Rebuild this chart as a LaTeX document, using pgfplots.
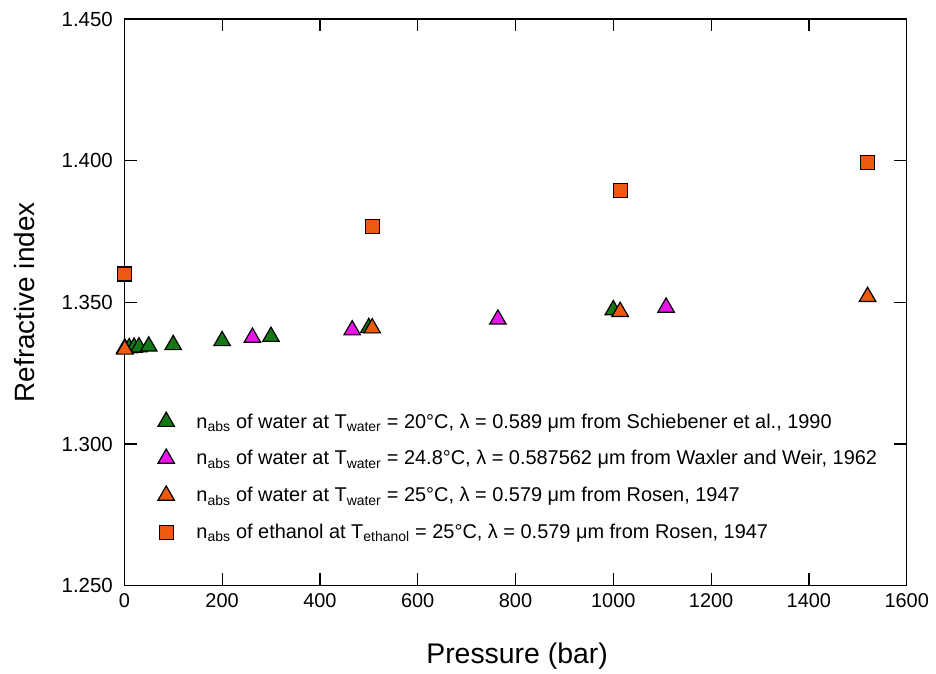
\documentclass[border=0pt]{standalone}
\usepackage{pgfplots}
\pgfplotsset{compat=1.18}
\usepackage{fontspec}
\setmainfont{Liberation Sans}
\definecolor{cgreen}{RGB}{20,120,20}
\definecolor{cmag}{RGB}{235,20,235}
\definecolor{corange}{RGB}{235,90,15}
\begin{document}
\begin{tikzpicture}
\begin{axis}[
  scale only axis, width=782.4bp, height=566.7bp,
  xmin=0, xmax=1600, ymin=1.25, ymax=1.45,
  xtick={0,200,400,600,800,1000,1200,1400,1600},
  ytick={1.25,1.30,1.35,1.40,1.45},
  tick align=inside, major tick length=12.5bp,
  tick style={black, line width=1.2bp},
  axis line style={line width=1.3bp},
  /pgf/number format/assume math mode=true,
  xticklabel style={font=\fontsize{20}{24}\selectfont, /pgf/number format/1000 sep={}, yshift=-4bp},
  yticklabel style={font=\fontsize{20.5}{24}\selectfont, /pgf/number format/fixed, /pgf/number format/fixed zerofill, /pgf/number format/precision=3, xshift=-8bp},
  every axis x label/.style={at={(axis description cs:0.502,-0.124)}, anchor=center, font=\fontsize{28.5}{32}\selectfont},
  every axis y label/.style={at={(axis description cs:-0.127,0.5)}, anchor=center, rotate=90, font=\fontsize{28}{32}\selectfont},
  xlabel={Pressure (bar)},
  ylabel={Refractive index},
  legend style={at={(axis description cs:0.039,0.311)}, anchor=north west, draw=none, fill=none,
    font=\fontsize{20}{23}\selectfont, row sep=17bp,
    /tikz/every odd column/.append style={column sep=20bp}},
  legend cell align=left,
]
\addplot[only marks, mark=triangle*, mark size=9.5bp, mark options={fill=cgreen, draw=black, line width=1.2bp}] coordinates {
(1,1.3338) (10,1.3339) (20,1.3341) (30,1.3342) (50,1.3345) (100,1.3350) (200,1.3364) (300,1.3379) (500,1.3410) (1000,1.3473)
};
\addlegendentry{n\textsubscript{abs} of water at T\textsubscript{water} = 20°C, λ = 0.589 μm from Schiebener et al., 1990}
\addplot[only marks, mark=triangle*, mark size=9.5bp, mark options={fill=cmag, draw=black, line width=1.2bp}] coordinates {
(262,1.3376) (466,1.3402) (764,1.3440) (1108,1.3482)
};
\addlegendentry{n\textsubscript{abs} of water at T\textsubscript{water} = 24.8°C, λ = 0.587562 μm from Waxler and Weir, 1962}
\addplot[only marks, mark=triangle*, mark size=9.5bp, mark options={fill=corange, draw=black, line width=1.2bp}] coordinates {
(1,1.3334) (507,1.3409) (1014,1.3467) (1520,1.3520)
};
\addlegendentry{n\textsubscript{abs} of water at T\textsubscript{water} = 25°C, λ = 0.579 μm from Rosen, 1947}
\addplot[only marks, mark=square*, mark size=7bp, mark options={fill=corange, draw=black, line width=1.2bp}] coordinates {
(1,1.3600) (507,1.3769) (1014,1.3894) (1520,1.3993)
};
\addlegendentry{n\textsubscript{abs} of ethanol at T\textsubscript{ethanol} = 25°C, λ = 0.579 μm from Rosen, 1947}
\end{axis}
\pgfresetboundingbox
\path[use as bounding box] ([shift={(-124.3bp,-88.3bp)}]current axis.south west) rectangle ([shift={(29.3bp,19bp)}]current axis.north east);
\end{tikzpicture}
\end{document}
